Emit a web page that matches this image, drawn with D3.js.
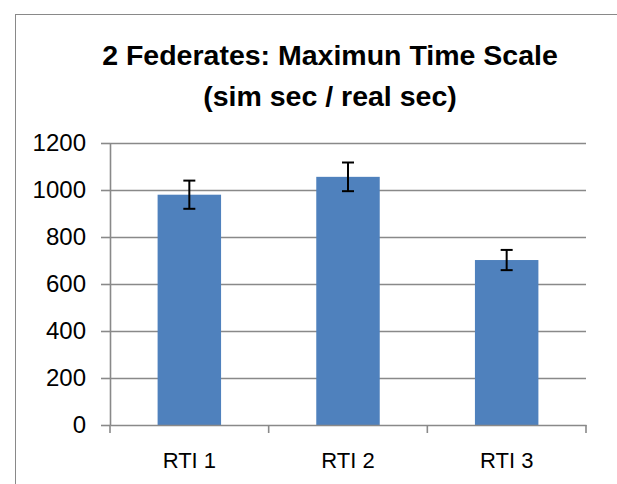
<!DOCTYPE html>
<html>
<head>
<meta charset="utf-8">
<script src="https://cdn.jsdelivr.net/npm/d3@7"></script>
<style>
  body { margin: 0; background: #fff; }
  svg { display: block; font-family: "Liberation Sans", Arial, sans-serif; }
</style>
</head>
<body>
<div id="chart"></div>
<script>
// Chart data
const categories = ["RTI 1", "RTI 2", "RTI 3"];
const values = [980, 1056, 702];
const errors = [60, 61, 43];
const yTicks = [0, 200, 400, 600, 800, 1000, 1200];
const titleLines = ["2 Federates: Maximun Time Scale", "(sim sec / real sec)"];

const W = 617, H = 484;
const plot = {left: 110, right: 586, top: 143, bottom: 425};
const gray = "#898989";

const svg = d3.select("#chart")
    .append("svg")
    .attr("width", W)
    .attr("height", H);

svg.append("rect")
    .attr("width", W)
    .attr("height", H)
    .attr("fill", "#fff");

// Chart area border (right and bottom edges fall outside the picture)
svg.append("rect")
    .attr("x", 15.5)
    .attr("y", 14.5)
    .attr("width", 700)
    .attr("height", 700)
    .attr("fill", "none")
    .attr("stroke", gray)
    .attr("stroke-width", 1);

// Scales
const x = d3.scaleBand()
    .domain(categories)
    .range([plot.left, plot.right])
    .paddingInner(0.6)
    .paddingOuter(0.3);

const y = d3.scaleLinear()
    .domain([0, 1200])
    .range([plot.bottom, plot.top]);

// Gridlines
svg.append("g")
    .attr("transform", `translate(${plot.left},0)`)
    .call(d3.axisLeft(y)
        .tickValues(yTicks.filter(d => d > 0))
        .tickSize(-(plot.right - plot.left))
        .tickFormat(""))
    .call(g => g.select(".domain").remove())
    .call(g => g.selectAll("line")
        .attr("stroke", gray)
        .attr("stroke-width", 1.6));

// Bars
svg.selectAll(".bar")
    .data(categories)
    .join("rect")
    .attr("class", "bar")
    .attr("x", d => x(d))
    .attr("y", (d, i) => y(values[i]))
    .attr("width", x.bandwidth())
    .attr("height", (d, i) => y(0) - y(values[i]))
    .attr("fill", "#4f81bd");

// Error bars
const err = svg.append("g")
    .attr("stroke", "#000")
    .attr("stroke-width", 2)
    .attr("fill", "none");

categories.forEach((c, i) => {
    const cx = x(c) + x.bandwidth() / 2;
    const top = y(values[i] + errors[i]);
    const bot = y(values[i] - errors[i]);
    err.append("line").attr("x1", cx).attr("x2", cx).attr("y1", top).attr("y2", bot);
    err.append("line").attr("x1", cx - 6).attr("x2", cx + 6).attr("y1", top).attr("y2", top);
    err.append("line").attr("x1", cx - 6).attr("x2", cx + 6).attr("y1", bot).attr("y2", bot);
});

// Y axis
svg.append("g")
    .attr("transform", `translate(${plot.left},0)`)
    .call(d3.axisLeft(y)
        .tickValues(yTicks)
        .tickFormat(d3.format("d"))
        .tickSize(9)
        .tickSizeOuter(0)
        .tickPadding(15))
    .call(g => g.select(".domain").attr("stroke", gray).attr("stroke-width", 1.6))
    .call(g => g.selectAll("line").attr("stroke", gray).attr("stroke-width", 1.6))
    .call(g => g.selectAll("text")
        .attr("fill", "#000")
        .style("font-size", "24px"));

// X axis
svg.append("g")
    .attr("transform", `translate(0,${plot.bottom})`)
    .call(d3.axisBottom(x)
        .tickSize(0)
        .tickSizeOuter(0)
        .tickPadding(27))
    .call(g => g.select(".domain").attr("stroke", gray).attr("stroke-width", 1.6))
    .call(g => g.selectAll("text")
        .attr("fill", "#000")
        .style("font-size", "22px"));

// Category boundary ticks
svg.append("g")
    .selectAll("line")
    .data(d3.range(categories.length + 1))
    .join("line")
    .attr("x1", i => plot.left + i * x.step())
    .attr("x2", i => plot.left + i * x.step())
    .attr("y1", plot.bottom)
    .attr("y2", plot.bottom + 8)
    .attr("stroke", gray)
    .attr("stroke-width", 1.6);

// Title
svg.append("g")
    .selectAll("text")
    .data(titleLines)
    .join("text")
    .attr("x", 330)
    .attr("y", (d, i) => 65 + i * 41)
    .attr("text-anchor", "middle")
    .style("font-size", "28.5px")
    .style("font-weight", "bold")
    .attr("fill", "#000")
    .text(d => d);
</script>
</body>
</html>
